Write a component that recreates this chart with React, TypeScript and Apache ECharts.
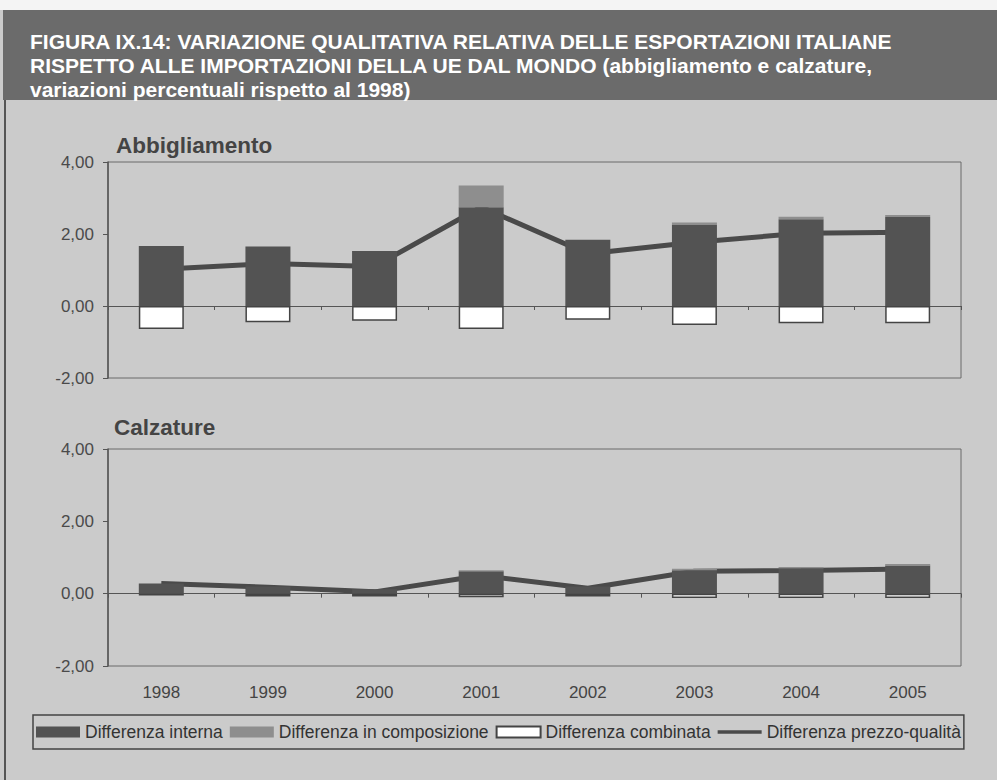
import React, { useEffect, useRef } from "react";
import * as echarts from "echarts";

const years = ["1998", "1999", "2000", "2001", "2002", "2003", "2004", "2005"];
const yTicks = [-2, 0, 2, 4];

const abbInterna = [1.67, 1.65, 1.53, 2.74, 1.84, 2.25, 2.41, 2.47];
const abbComposizione = [0, 0, 0, 0.61, 0, 0.07, 0.07, 0.06];
const abbCombinata = [-0.64, -0.45, -0.41, -0.64, -0.38, -0.53, -0.48, -0.48];
const abbPrezzoQualita = [1.02, 1.18, 1.1, 2.75, 1.45, 1.77, 2.02, 2.05];

const calInterna = [0.28, 0.2, 0.12, 0.62, 0.2, 0.65, 0.7, 0.78];
const calComposizione = [0, 0, 0, 0.03, 0, 0.04, 0.04, 0.04];
const calCombinata = [-0.05, -0.08, -0.08, -0.1, -0.08, -0.12, -0.12, -0.12];
const calPrezzoQualita = [0.28, 0.18, 0.05, 0.5, 0.15, 0.62, 0.64, 0.68];

const titleLines = [
  "FIGURA IX.14: VARIAZIONE QUALITATIVA RELATIVA DELLE ESPORTAZIONI ITALIANE",
  "RISPETTO ALLE IMPORTAZIONI DELLA UE DAL MONDO (abbigliamento e calzature,",
  "variazioni percentuali rispetto al 1998)",
];
const panelTitles = ["Abbigliamento", "Calzature"];
const seriesNames = [
  "Differenza interna",
  "Differenza in composizione",
  "Differenza combinata",
  "Differenza prezzo-qualità",
];

const FONT = "'Liberation Sans', Arial, sans-serif";
const DARK = "#535353";
const MID = "#8e8e8e";
const LINE = "#4a4a4a";

export default function App() {
  const ref = useRef<HTMLDivElement>(null);
  useEffect(() => {
    document.body.style.margin = "0";
    if (!ref.current) return;
    const chart = echarts.init(ref.current, null, { renderer: "svg" });

    const yAxisBase = (gridIndex: number) => ({
      type: "value",
      gridIndex,
      min: yTicks[0],
      max: yTicks[yTicks.length - 1],
      interval: 2,
      axisLine: { show: true, lineStyle: { color: "#555", width: 1.5 } },
      axisTick: { show: true, length: 5, lineStyle: { color: "#555" } },
      splitLine: { show: false },
      axisLabel: {
        margin: 14,
        color: "#4a4a4a",
        fontSize: 17,
        fontFamily: FONT,
        formatter: (v: number) => v.toFixed(2).replace(".", ","),
      },
    });

    const zeroAxis = (gridIndex: number) => ({
      type: "category",
      gridIndex,
      data: years,
      axisLine: { onZero: true, lineStyle: { color: "#555", width: 1.2 } },
      axisTick: { show: true, length: 4, lineStyle: { color: "#555" } },
      axisLabel: { show: false },
    });

    const barSeries = (
      stack: string,
      xi: number,
      yi: number,
      interna: number[],
      comp: number[],
      comb: number[],
      line: number[]
    ) => [
      {
        name: seriesNames[3],
        type: "line",
        xAxisIndex: xi,
        yAxisIndex: yi,
        data: line,
        symbol: "none",
        z: 1,
        lineStyle: { color: LINE, width: 5 },
        itemStyle: { color: LINE },
      },
      {
        name: seriesNames[0],
        type: "bar",
        stack,
        xAxisIndex: xi,
        yAxisIndex: yi,
        data: interna,
        barWidth: 45,
        z: 3,
        itemStyle: { color: DARK },
      },
      {
        name: seriesNames[1],
        type: "bar",
        stack,
        xAxisIndex: xi,
        yAxisIndex: yi,
        data: comp,
        barWidth: 45,
        z: 3,
        itemStyle: { color: MID },
      },
      {
        name: seriesNames[2],
        type: "bar",
        stack,
        xAxisIndex: xi,
        yAxisIndex: yi,
        data: comb,
        barWidth: 45,
        z: 3,
        itemStyle: { color: "#ffffff", borderColor: "#444", borderWidth: 1.5 },
      },
    ];

    chart.setOption({
      animation: false,
      backgroundColor: "#cbcbcb",
      title: [
        {
          text: titleLines.join("\n"),
          left: 30,
          top: 29,
          padding: 0,
          textStyle: {
            color: "#ffffff",
            fontSize: 21,
            fontWeight: "bold",
            fontFamily: FONT,
            lineHeight: 24,
          },
        },
        {
          text: panelTitles[0],
          left: 116,
          top: 134,
          padding: 0,
          textStyle: { color: "#444", fontSize: 22.5, fontWeight: "bold", fontFamily: FONT },
        },
        {
          text: panelTitles[1],
          left: 114,
          top: 416,
          padding: 0,
          textStyle: { color: "#444", fontSize: 22.5, fontWeight: "bold", fontFamily: FONT },
        },
      ],
      graphic: [
        { type: "rect", shape: { x: 0, y: 0, width: 997, height: 10 }, style: { fill: "#f4f4f4" }, z: -1 },
        { type: "rect", shape: { x: 3, y: 10, width: 994, height: 90 }, style: { fill: "#6b6b6b" }, z: -1 },
        { type: "line", shape: { x1: 5, y1: 100, x2: 5, y2: 780 }, style: { stroke: "#555", lineWidth: 2 }, z: -1 },
      ],
      legend: {
        left: 33,
        top: 715,
        padding: [6, 3, 6, 3],
        itemWidth: 44,
        itemHeight: 11,
        itemGap: 7,
        borderColor: "#444",
        borderWidth: 1.5,
        textStyle: { color: "#333", fontSize: 17.5, fontFamily: FONT, lineHeight: 22 },
        data: [
          { name: seriesNames[0], icon: "rect" },
          { name: seriesNames[1], icon: "rect" },
          { name: seriesNames[2], icon: "rect" },
          { name: seriesNames[3], icon: "path://M0,0 L44,0 L44,3.5 L0,3.5 Z" },
        ],
      },
      grid: [
        { left: 108, top: 162, width: 853, height: 216, show: true, borderColor: "#6a6a6a", borderWidth: 1, backgroundColor: "transparent" },
        { left: 108, top: 449, width: 853, height: 217, show: true, borderColor: "#6a6a6a", borderWidth: 1, backgroundColor: "transparent" },
      ],
      xAxis: [
        zeroAxis(0),
        zeroAxis(1),
        {
          type: "category",
          gridIndex: 1,
          data: years,
          position: "bottom",
          axisLine: { show: false, onZero: false },
          axisTick: { show: false },
          axisLabel: { margin: 18, color: "#444", fontSize: 17, fontFamily: FONT },
        },
      ],
      yAxis: [yAxisBase(0), yAxisBase(1)],
      series: [
        ...barSeries("abb", 0, 0, abbInterna, abbComposizione, abbCombinata, abbPrezzoQualita),
        ...barSeries("cal", 1, 1, calInterna, calComposizione, calCombinata, calPrezzoQualita),
      ],
    });
    return () => chart.dispose();
  }, []);
  return <div ref={ref} style={{ width: 997, height: 780 }} />;
}
